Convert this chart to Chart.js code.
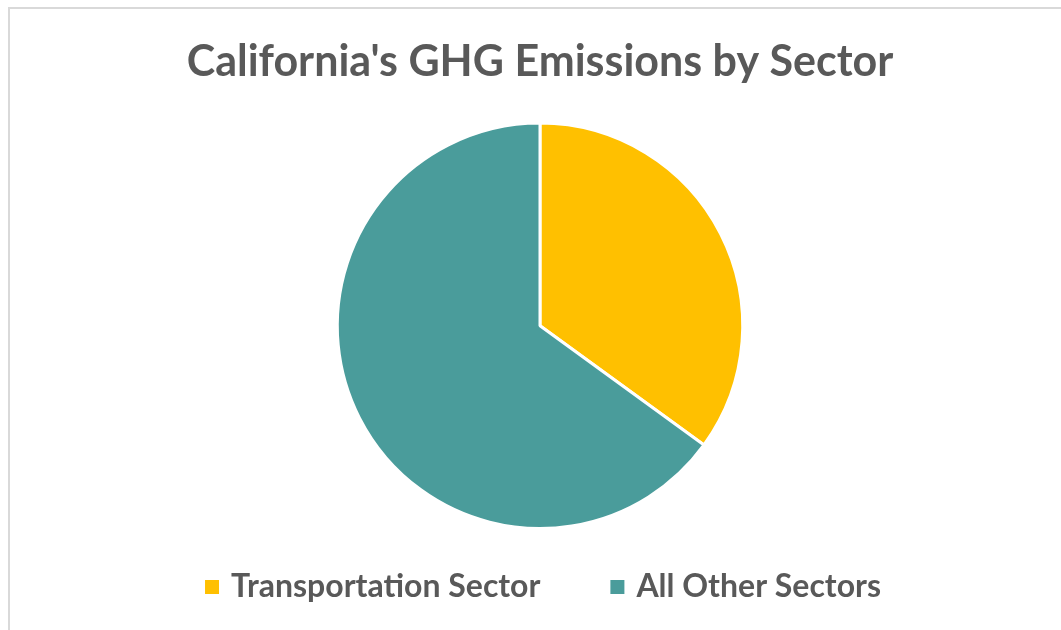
<!DOCTYPE html>
<html>
<head>
<meta charset="utf-8">
<script src="https://cdn.jsdelivr.net/npm/chart.js@4/dist/chart.umd.min.js"></script>
<style>
  body { margin: 0; background: #ffffff; }
  #wrap { position: relative; width: 1061px; height: 630px; overflow: hidden; }
  #frame {
    position: absolute; left: 8px; top: 7px; width: 1100px; height: 700px;
    border-left: 2px solid #d9d9d9; border-top: 2px solid #d9d9d9;
  }
  #pieChart { position: absolute; left: 0; top: 0; }
</style>
</head>
<body>
<div id="wrap">
  <div id="frame"></div>
  <canvas id="pieChart" width="1061" height="630"></canvas>
</div>
<script>
// data (share of total, %)
const sectors = ['Transportation Sector', 'All Other Sectors'];
const shares = [35, 65];
const sliceColors = ['#FFC000', '#4A9C9B'];

const textGray = '#595959';
const fontFam = 'Lato, "Open Sans", sans-serif';

// legend drawn under the pie, Excel style (wide gap between entries)
const bottomLegend = {
  id: 'bottomLegend',
  afterDraw(chart) {
    const ctx = chart.ctx;
    const labels = chart.data.labels;
    const colors = chart.data.datasets[0].backgroundColor;
    const box = 14, textGap = 12, itemGap = 70, y = 587;
    ctx.save();
    ctx.font = 'bold 32px ' + fontFam;
    ctx.textBaseline = 'middle';
    const widths = labels.map(t => ctx.measureText(t).width);
    let total = 0;
    widths.forEach(w => { total += box + textGap + w; });
    total += itemGap * (labels.length - 1);
    let x = (chart.chartArea.left + chart.chartArea.right) / 2 + 3 - total / 2;
    labels.forEach((t, i) => {
      ctx.fillStyle = colors[i];
      ctx.fillRect(x, y - box / 2, box, box);
      ctx.fillStyle = textGray;
      ctx.fillText(t, x + box + textGap, y);
      x += box + textGap + widths[i] + itemGap;
    });
    ctx.restore();
  }
};

const ctx = document.getElementById('pieChart').getContext('2d');
const pieChart = new Chart(ctx, {
  type: 'pie',
  data: {
    labels: sectors,
    datasets: [{
      data: shares,
      backgroundColor: sliceColors,
      borderColor: '#ffffff',
      borderWidth: 3
    }]
  },
  options: {
    responsive: false,
    animation: false,
    layout: { padding: { left: 19, right: 0, top: 0, bottom: 100 } },
    plugins: {
      title: {
        display: true,
        text: "California's GHG Emissions by Sector",
        color: textGray,
        font: { family: fontFam, size: 43, weight: 'bold', lineHeight: 1.2 },
        padding: { top: 36, bottom: 34 }
      },
      legend: { display: false },
      tooltip: { enabled: false }
    }
  },
  plugins: [bottomLegend]
});
</script>
</body>
</html>
